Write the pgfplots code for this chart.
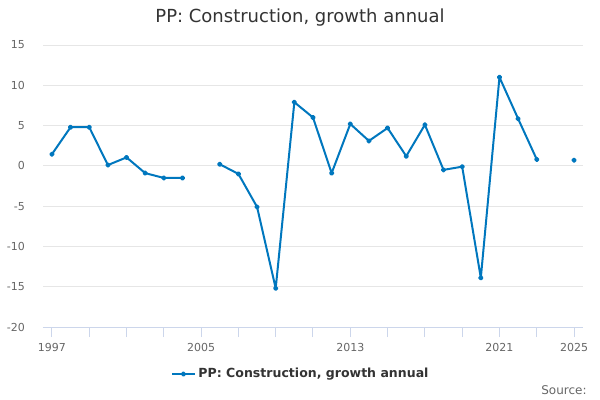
\documentclass[border=0pt]{standalone}
\usepackage{pgfplots}
\pgfplotsset{compat=1.18}
\usepackage{fontspec}
\setmainfont{DejaVu Sans}
\definecolor{linec}{RGB}{0,119,190}
\definecolor{gridc}{RGB}{230,230,230}
\definecolor{axisc}{RGB}{204,214,235}
\definecolor{ticktext}{RGB}{102,102,102}
\definecolor{titlec}{RGB}{51,51,51}
\begin{document}
\begin{tikzpicture}
\useasboundingbox (0,0) rectangle (450pt,300pt);
\begin{axis}[
  at={(32.25pt,54.75pt)}, anchor=south west,
  scale only axis, width=405pt, height=211.5pt,
  xmin=1996.52, xmax=2025.48, ymin=-20, ymax=15,
  axis line style={draw=none},
  xtick pos=bottom, ytick pos=left,
  xtick={1997,1999,...,2025},
  xticklabels={1997,,,,2005,,,,2013,,,,2021,,2025},
  ytick={-20,-15,...,15},
  yticklabels={},
  ytick style={draw=none},
  ymajorgrids, major grid style={color=gridc, line width=0.75pt},
  xtick style={color=axisc, line width=0.75pt},
  major tick length=7.5pt,
  xtick align=outside,
  xticklabel style={font=\fontsize{8.25}{10}\selectfont, text=ticktext, yshift=-1pt},
  unbounded coords=jump,
  legend style={at={(0.478,-0.167)}, anchor=center, draw=none, fill=none,
    font=\fontsize{9.4}{12}\bfseries\color{titlec}},
  legend cell align=left,
  clip=false,
  after end axis/.code={\draw[axisc, line width=0.75pt] (rel axis cs:0,0) -- (rel axis cs:1,0);},
]
\pgfplotsinvokeforeach{-20,-15,...,15}{
  \node[anchor=east, font=\fontsize{8.25}{10}\selectfont, text=ticktext] at (axis cs:1996.52,#1) [xshift=-10pt] {#1};
}
\addplot[color=linec, line width=1.5pt, line join=round, mark=*, mark size=1.25pt] coordinates {
(1997,1.45) (1998,4.8) (1999,4.8) (2000,0.1) (2001,1.05) (2002,-0.9) (2003,-1.5) (2004,-1.5)
(2005,nan) (2006,0.2) (2007,-1.0) (2008,-5.1) (2009,-15.2) (2010,7.9) (2011,6.0) (2012,-0.9)
(2013,5.2) (2014,3.1) (2015,4.7) (2016,1.2) (2017,5.1) (2018,-0.5) (2019,-0.1) (2020,-13.9)
(2021,11.0) (2022,5.85) (2023,0.8) (2024,nan) (2025,0.7)
};
\addlegendentry{PP: Construction, growth annual}
\end{axis}
\node[font=\fontsize{13.5}{16}\selectfont, text=titlec] at (225pt,286.5pt) {PP: Construction, growth annual};
\node[anchor=east, font=\fontsize{9}{11}\selectfont, text=ticktext] at (443.5pt,7.5pt) {Source:};
\end{tikzpicture}
\end{document}
